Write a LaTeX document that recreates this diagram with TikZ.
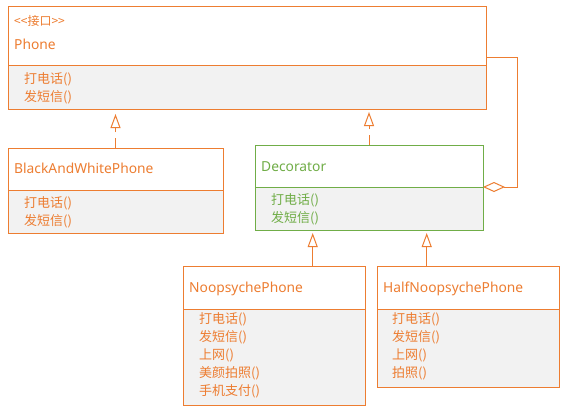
\documentclass[tikz,border=0pt]{standalone}
\usepackage{fontspec}
\setmainfont{Noto Sans}
\newfontfamily\cjk{Noto Sans CJK SC}
\usetikzlibrary{arrows.meta}
\definecolor{uorange}{RGB}{237,125,49}
\definecolor{ugreen}{RGB}{112,173,71}
\definecolor{ugrey}{RGB}{242,242,242}
\tikzset{
  comp/.style={draw=uorange, line width=1pt, inner sep=0pt, outer sep=0pt, anchor=north west, fill=white},
  body/.style={comp, fill=ugrey},
  cname/.style={anchor=base west, inner sep=0pt, text=uorange, font=\fontsize{13.8}{16}\selectfont},
  meth/.style={anchor=west, inner sep=0pt, text=uorange, font=\cjk\fontsize{13}{16}\selectfont},
  stereo/.style={anchor=west, inner sep=0pt, text=uorange, font=\cjk\fontsize{12}{14}\selectfont},
  grn/.style={draw=ugreen},
  grntext/.style={text=ugreen},
  link/.style={draw=uorange, line width=1pt},
  realize/.style={link, -{Triangle[open, width=10pt, length=14pt]}, shorten >=3pt},
  dashline/.style={dash pattern=on 10pt off 6pt},
  aggr/.style={link, -{Diamond[open, width=10pt, length=22pt]}}
}
\begin{document}
\begin{tikzpicture}[x=1pt,y=-1pt]
\useasboundingbox[fill=white] (0,0) rectangle (569,413);

% Phone
\node[comp, minimum width=478pt, minimum height=59pt] (phoneTop) at (8,6) {};
\node[body, minimum width=478pt, minimum height=44pt] (phoneBody) at (8,65) {};
\node[stereo] (phoneStereo) at (14,21) {<<接口>>};
\node[cname] (phoneName) at (14,49) {Phone};
\node[meth] (phoneM1) at (24,79) {打电话()};
\node[meth] (phoneM2) at (24,97) {发短信()};

% BlackAndWhitePhone
\node[comp, minimum width=215pt, minimum height=42pt] (bwTop) at (8,148) {};
\node[body, minimum width=215pt, minimum height=43pt] (bwBody) at (8,190) {};
\node[cname] (bwName) at (14,173) {BlackAndWhitePhone};
\node[meth] (bwM1) at (24,203) {打电话()};
\node[meth] (bwM2) at (24,221) {发短信()};

% Decorator
\node[comp, grn, minimum width=228pt, minimum height=42pt] (decoTop) at (255,145) {};
\node[body, grn, minimum width=228pt, minimum height=43pt] (decoBody) at (255,187) {};
\node[cname, grntext] (decoName) at (261,171) {Decorator};
\node[meth, grntext] (decoM1) at (271,200) {打电话()};
\node[meth, grntext] (decoM2) at (271,218) {发短信()};

% NoopsychePhone
\node[comp, minimum width=182pt, minimum height=43pt] (noopTop) at (183,266) {};
\node[body, minimum width=182pt, minimum height=96pt] (noopBody) at (183,309) {};
\node[cname] (noopName) at (189,292.5) {NoopsychePhone};
\node[meth] (noopM1) at (199,319.5) {打电话()};
\node[meth] (noopM2) at (199,337.5) {发短信()};
\node[meth] (noopM3) at (199,355.5) {上网()};
\node[meth] (noopM4) at (199,373.5) {美颜拍照()};
\node[meth] (noopM5) at (199,391.5) {手机支付()};

% HalfNoopsychePhone
\node[comp, minimum width=182pt, minimum height=43pt] (halfTop) at (377,266) {};
\node[body, minimum width=182pt, minimum height=78pt] (halfBody) at (377,309) {};
\node[cname] (halfName) at (383,292.5) {HalfNoopsychePhone};
\node[meth] (halfM1) at (392,319.5) {打电话()};
\node[meth] (halfM2) at (392,337.5) {发短信()};
\node[meth] (halfM3) at (392,355.5) {上网()};
\node[meth] (halfM4) at (392,373.5) {拍照()};

% connectors
\draw[realize, dashline, shorten >=5pt] (bwTop.north) -- (bwTop.north |- phoneBody.south);
\draw[realize, dashline] (decoTop.north) -- (decoTop.north |- phoneBody.south);
\draw[realize] ([xshift=38.7pt]noopTop.north) -- ([xshift=38.7pt]noopTop.north |- decoBody.south);
\draw[realize] ([xshift=-41.3pt]halfTop.north) -- ([xshift=-41.3pt]halfTop.north |- decoBody.south);
\draw[aggr] ([yshift=8pt]phoneTop.south east) -- ++(31,0) |- (decoBody.north east);
\end{tikzpicture}
\end{document}
